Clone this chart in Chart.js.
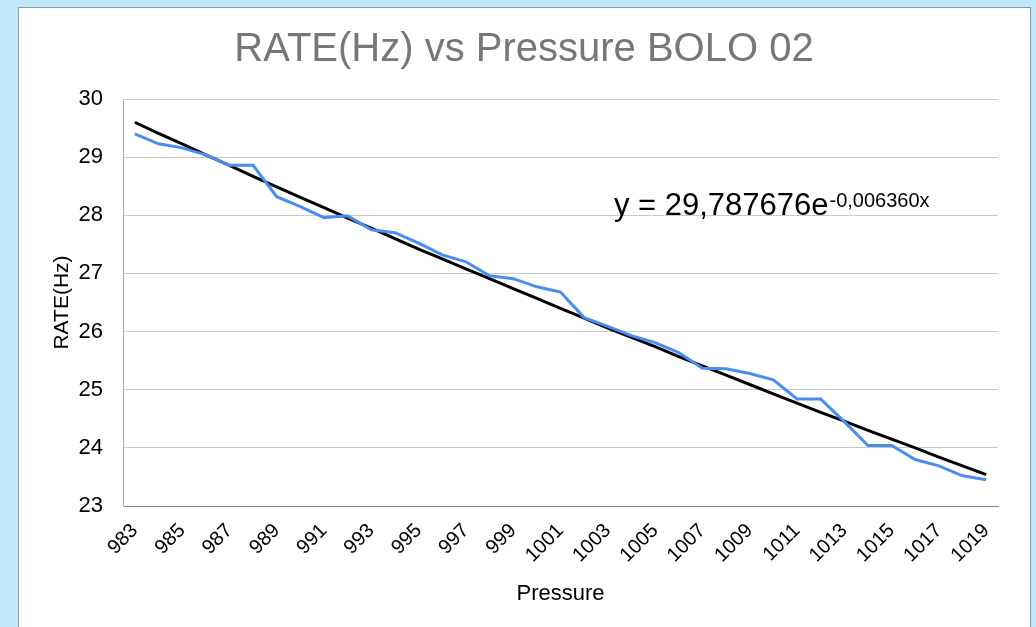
<!DOCTYPE html>
<html>
<head>
<meta charset="utf-8">
<script src="https://cdn.jsdelivr.net/npm/chart.js@4.4.0/dist/chart.umd.min.js"></script>
<style>
  html, body { margin: 0; padding: 0; background: #bfe9f9; overflow: hidden; }
  #carte { position: absolute; left: 18px; top: 7px; width: 1011px; height: 640px; background: #fff; border: 1px solid #8c9ca4; }
  #graph { position: absolute; left: 0; top: 0; }
</style>
</head>
<body>
<div id="carte"></div>
<canvas id="graph" width="1036" height="627"></canvas>
<script>
// Pressions (axe X)
const pressions = [983, 984, 985, 986, 987, 988, 989, 990, 991, 992, 993, 994, 995, 996, 997, 998, 999, 1000, 1001,
  1002, 1003, 1004, 1005, 1006, 1007, 1008, 1009, 1010, 1011, 1012, 1013, 1014, 1015, 1016, 1017, 1018, 1019];

const taux = [29.40, 29.23, 29.16, 29.04, 28.86, 28.86, 28.32, 28.15, 27.96, 27.99, 27.75, 27.70, 27.52, 27.32, 27.20,
  26.96, 26.91, 26.77, 26.68, 26.24, 26.09, 25.93, 25.81, 25.64, 25.37, 25.36, 25.28, 25.17, 24.84, 24.84,
  24.45, 24.04, 24.04, 23.80, 23.69, 23.52, 23.45];

// Courbe de tendance exponentielle
const tendance = [29.60, 29.41, 29.23, 29.04, 28.86, 28.67, 28.49, 28.31, 28.13, 27.95, 27.78, 27.60, 27.42, 27.25,
  27.08, 26.91, 26.74, 26.57, 26.40, 26.23, 26.06, 25.90, 25.74, 25.57, 25.41, 25.25, 25.09, 24.93, 24.77,
  24.61, 24.46, 24.30, 24.15, 24.00, 23.84, 23.69, 23.54];

const yMin = 23, yMax = 30;

// Texte de l'équation de tendance
const equation = { base: "y = 29,787676e", exposant: "-0,006360x" };

const police = "'Liberation Sans', Arial, sans-serif";

const pluginEquation = {
  id: "equation",
  afterDraw(chart) {
    const { ctx, chartArea, scales } = chart;
    const x = chartArea.left + 0.561 * (chartArea.right - chartArea.left);
    const y = scales.y.getPixelForValue(28.0);
    ctx.save();
    ctx.fillStyle = "#000";
    ctx.textBaseline = "alphabetic";
    ctx.font = "31px " + police;
    ctx.fillText(equation.base, x, y);
    const w = ctx.measureText(equation.base).width;
    ctx.font = "20px " + police;
    ctx.fillText(equation.exposant, x + w + 1, y - 8);
    ctx.restore();
  },
};

new Chart(document.getElementById("graph"), {
  type: "line",
  data: {
    labels: pressions,
    datasets: [
      {
        data: taux,
        borderColor: "rgb(72, 142, 240)",
        borderWidth: 3,
        pointRadius: 0,
        tension: 0,
        fill: false,
      },
      {
        data: tendance,
        borderColor: "#000",
        borderWidth: 3,
        pointRadius: 0,
        tension: 0,
        fill: false,
      },
    ],
  },
  options: {
    responsive: false,
    animation: false,
    layout: { padding: { left: 50, right: 38, top: 0, bottom: 0 } },
    plugins: {
      legend: { display: false },
      tooltip: { enabled: false },
      title: {
        display: true,
        text: "RATE(Hz) vs Pressure BOLO 02",
        color: "#777",
        font: { family: police, size: 40, weight: "normal" },
        padding: { top: 26, bottom: 25 },
      },
    },
    scales: {
      x: {
        offset: true,
        grid: { display: false, drawTicks: false },
        border: { display: true, color: "#8a8a8a", width: 1 },
        ticks: {
          autoSkip: false,
          minRotation: 45,
          maxRotation: 45,
          padding: 13,
          color: "#000",
          font: { family: police, size: 20 },
          callback: (v, i) => (i % 2 === 0 ? pressions[i] : ""),
        },
        title: {
          display: true,
          text: "Pressure",
          color: "#000",
          font: { family: police, size: 22 },
          padding: { top: 20, bottom: 20 },
        },
        afterFit: (s) => { s.height = 121; },
      },
      y: {
        min: yMin,
        max: yMax,
        grid: { color: "#c9c9c9", drawTicks: false },
        border: { display: true, color: "#b0b0b0" },
        ticks: {
          stepSize: 1,
          padding: 20,
          color: "#000",
          font: { family: police, size: 22 },
        },
        title: {
          display: true,
          text: "RATE(Hz)",
          color: "#000",
          font: { family: police, size: 21 },
          padding: { top: 0, bottom: 0 },
        },
        afterFit: (s) => { s.width = 73; },
      },
    },
  },
  plugins: [pluginEquation],
});
</script>
</body>
</html>
